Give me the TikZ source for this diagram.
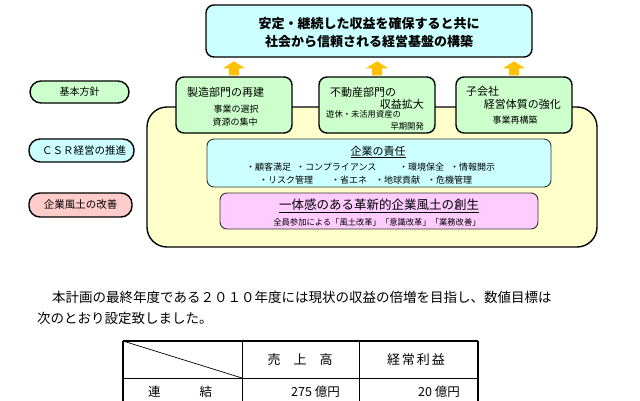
\documentclass[tikz,border=0pt]{standalone}
\usepackage{fontspec}
\setmainfont{Noto Sans CJK JP}
\definecolor{lcyan}{HTML}{CCFFFF}
\definecolor{lgreen}{HTML}{CCFFCC}
\definecolor{lyellow}{HTML}{FFFFCC}
\definecolor{lpink}{HTML}{FFCCFF}
\definecolor{lsalmon}{HTML}{FFCCCC}
\definecolor{arr}{HTML}{FFC000}
\newcommand{\fs}[1]{\fontsize{#1}{#1}\selectfont}
\begin{document}
\begin{tikzpicture}[x=1pt,y=-1pt,
  box/.style={draw=black, line width=1.4pt, inner sep=0pt, rounded corners=8pt},
  inbox/.style={draw=black!80, line width=0.9pt, inner sep=0pt, rounded corners=7pt},
  pill/.style={draw=black, line width=1.4pt, inner sep=0pt, rounded corners=11pt},
  txt/.style={inner sep=0pt, text=black},
  tline/.style={line width=0.7pt},
  tthick/.style={line width=1.6pt}]
\useasboundingbox (0,0) rectangle (640,400);
\clip (0,0) rectangle (640,400);
\fill[white] (0,0) rectangle (640,400);

% top box
\node[box, fill=lcyan, minimum width=326pt, minimum height=52pt] (top) at (369,31) {};
\node[txt, align=center, font=\fs{13}\bfseries] (toptxt) at (369,33) {安定・継続した収益を確保すると共に\\[5pt]社会から信頼される経営基盤の構築};

% yellow frame
\node[draw=black, line width=1.4pt, fill=lyellow, rounded corners=20pt, minimum width=450pt, minimum height=140pt, inner sep=0pt] (frame) at (372,177) {};

% green boxes
\node[box, fill=lgreen, minimum width=116pt, minimum height=56pt] (g1) at (234,105) {};
\node[box, fill=lgreen, minimum width=116pt, minimum height=56pt] (g2) at (377,105) {};
\node[box, fill=lgreen, minimum width=116pt, minimum height=56pt] (g3) at (514,105) {};

\node[txt, anchor=west, font=\fs{11}] (g1a) at (187,92) {製造部門の再建};
\node[txt, font=\fs{9}] (g1b) at (236,109) {事業の選択};
\node[txt, font=\fs{9}] (g1c) at (235,122) {資源の集中};

\node[txt, anchor=west, font=\fs{11}] (g2a) at (330,92) {不動産部門の};
\node[txt, anchor=east, font=\fs{11}] (g2b) at (424,104) {収益拡大};
\node[txt, anchor=west, font=\fs{8.3}] (g2c) at (326,114) {遊休・未活用資産の};
\node[txt, anchor=east, font=\fs{8.3}] (g2d) at (424,126) {早期開発};

\node[txt, anchor=west, font=\fs{11}] (g3a) at (466,91) {子会社};
\node[txt, anchor=east, font=\fs{11}] (g3b) at (561,104) {経営体質の強化};
\node[txt, font=\fs{9}] (g3c) at (515,120) {事業再構築};

% arrows
\foreach \g in {g1,g2,g3} {
  \path (\g.north) ++(0,-1) coordinate (\g arr);
  \fill[arr] (\g arr) ++(-5,0) -- ++(0,-7) -- ++(-6,0) -- ++(11,-7) -- ++(11,7) -- ++(-6,0) -- ++(0,7) -- cycle;
}

% cyan box
\node[inbox, fill=lcyan, minimum width=344pt, minimum height=48pt] (csr) at (379,163) {};
\node[txt, font=\fs{11}] (csrt) at (378,152) {\underline{企業の責任}};
\node[txt, anchor=west, font=\fs{9}] (c1) at (246,167) {・顧客満足};
\node[txt, anchor=west, font=\fs{9}] (c2) at (296,167) {・コンプライアンス};
\node[txt, anchor=west, font=\fs{9}] (c3) at (399,167) {・環境保全};
\node[txt, anchor=west, font=\fs{9}] (c4) at (450,167) {・情報開示};
\node[txt, anchor=west, font=\fs{9}] (c5) at (259,180) {・リスク管理};
\node[txt, anchor=west, font=\fs{9}] (c6) at (331,180) {・省エネ};
\node[txt, anchor=west, font=\fs{9}] (c7) at (375,180) {・地球貢献};
\node[txt, anchor=west, font=\fs{9}] (c8) at (427,180) {・危機管理};

% pink box
\node[inbox, fill=lpink, minimum width=318pt, minimum height=36pt] (cul) at (379,211) {};
\node[txt, font=\fs{12.5}] (cult) at (379,206) {\underline{一体感のある革新的企業風土の創生}};
\node[txt, font=\fs{8.3}] (culs) at (377,222) {全員参加による「風土改革」「意識改革」「業務改善」};

% left labels
\node[pill, fill=lgreen, minimum width=99pt, minimum height=22pt] (k1) at (79.5,92) {};
\node[txt, font=\fs{10}] (k1t) at (79.5,92) {基本方針};
\node[pill, fill=lcyan, minimum width=105pt, minimum height=23pt] (k2) at (81.5,150.5) {};
\node[txt, font=\fs{10.5}] (k2t) at (84,151) {ＣＳＲ経営の推進};
\node[pill, fill=lsalmon, minimum width=103pt, minimum height=24pt] (k3) at (80.5,205) {};
\node[txt, font=\fs{10.5}] (k3t) at (80.5,205) {企業風土の改善};

% paragraph
\node[txt, anchor=west, font=\fs{13.5}] (p1) at (52,297) {本計画の最終年度である２０１０年度には現状の収益の倍増を目指し、数値目標は};
\node[txt, anchor=west, font=\fs{13.5}] (p2) at (37,318) {次のとおり設定致しました。};

% table
\draw[tthick] (123,341) -- (478,341);
\draw[tthick] (123,341) -- (123,410);
\draw[tthick] (478,341) -- (478,410);
\draw[tline] (242,341) -- (242,410);
\draw[tline] (359,341) -- (359,410);
\draw[tline] (123,378) -- (478,378);
\draw[tline] (123,341) -- (242,378);
\node[txt, font=\fs{13}] (h1) at (300,360) {売\hspace{13pt}上\hspace{13pt}高};
\node[txt, font=\fs{13}] (h2) at (416,360) {経\hspace{2pt}常\hspace{2pt}利\hspace{2pt}益};
\node[txt, anchor=west, font=\fs{12.5}] (r1) at (148,392) {連\hspace{39pt}結};
\node[txt, anchor=east, font=\fs{12.5}] (r2) at (340,392) {275 億円};
\node[txt, anchor=east, font=\fs{12.5}] (r3) at (460,392) {20 億円};
\end{tikzpicture}
\end{document}
